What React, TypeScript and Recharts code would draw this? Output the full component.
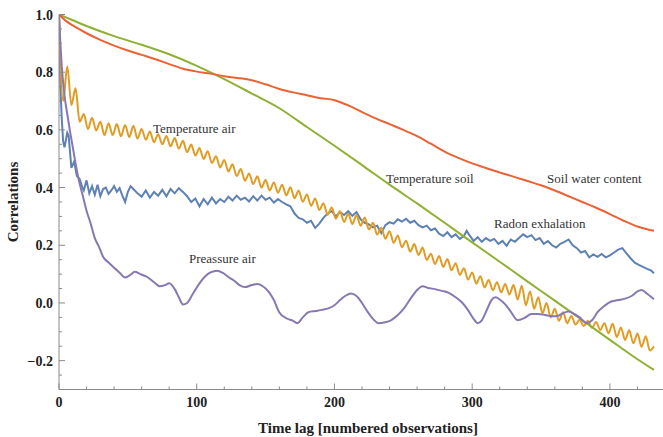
import React from 'react';
import { LineChart, Line, XAxis, YAxis, ReferenceDot } from 'recharts';

// ---- data: [time lag, correlation] ----
const radonExhalation: [number, number][] = [
  [0, 1.0], [1, 0.75], [2, 0.64], [3, 0.56], [4, 0.54], [6, 0.59], [7, 0.58], [9, 0.468], [11, 0.49],
  [13, 0.44], [15, 0.43], [17, 0.4], [18, 0.39], [20, 0.425], [22, 0.38], [24, 0.405], [26, 0.375],
  [28, 0.41], [30, 0.37], [32, 0.395], [34, 0.4], [36, 0.378], [38, 0.39], [40, 0.405], [42, 0.385],
  [44, 0.398], [46, 0.372], [48, 0.35], [50, 0.385], [52, 0.405], [54, 0.395], [57, 0.38], [60, 0.368],
  [63, 0.39], [66, 0.365], [69, 0.385], [72, 0.372], [75, 0.392], [78, 0.37], [81, 0.395], [84, 0.38],
  [87, 0.398], [90, 0.385], [93, 0.37], [96, 0.35], [99, 0.362], [102, 0.335], [105, 0.36], [108, 0.342],
  [111, 0.365], [114, 0.345], [117, 0.36], [120, 0.35], [123, 0.368], [126, 0.355], [129, 0.372],
  [132, 0.358], [135, 0.365], [138, 0.352], [141, 0.37], [144, 0.355], [147, 0.372], [150, 0.358],
  [153, 0.365], [156, 0.348], [159, 0.36], [162, 0.35], [165, 0.342], [168, 0.335], [171, 0.31],
  [174, 0.295], [177, 0.29], [180, 0.278], [183, 0.285], [186, 0.26], [189, 0.275], [192, 0.295],
  [195, 0.31], [198, 0.318], [201, 0.3], [204, 0.315], [207, 0.305], [210, 0.318], [213, 0.302],
  [216, 0.315], [219, 0.29], [222, 0.278], [225, 0.272], [228, 0.262], [231, 0.268], [234, 0.242],
  [237, 0.27], [240, 0.28], [243, 0.275], [246, 0.29], [249, 0.282], [252, 0.292], [255, 0.278],
  [258, 0.285], [261, 0.27], [264, 0.262], [267, 0.268], [270, 0.252], [273, 0.258], [276, 0.24],
  [279, 0.232], [282, 0.245], [285, 0.228], [288, 0.238], [291, 0.222], [294, 0.232], [296, 0.25],
  [298, 0.235], [301, 0.215], [304, 0.228], [307, 0.212], [310, 0.225], [313, 0.215], [316, 0.222],
  [319, 0.205], [322, 0.215], [325, 0.198], [328, 0.22], [331, 0.212], [334, 0.225], [337, 0.238],
  [340, 0.228], [343, 0.235], [346, 0.218], [349, 0.225], [352, 0.205], [355, 0.215], [358, 0.2],
  [361, 0.192], [364, 0.205], [367, 0.212], [370, 0.22], [373, 0.2], [376, 0.19], [379, 0.175],
  [382, 0.18], [385, 0.158], [388, 0.168], [391, 0.16], [394, 0.17], [397, 0.158], [400, 0.165],
  [403, 0.175], [406, 0.185], [409, 0.19], [412, 0.172], [415, 0.155], [418, 0.14], [421, 0.132],
  [424, 0.125], [427, 0.118], [430, 0.112], [432, 0.103],
];

const temperatureAir: [number, number][] = [
  [0, 1.0], [3, 0.70], [6, 0.82], [9, 0.686], [12, 0.744], [15, 0.628], [18, 0.655], [21, 0.603],
  [24, 0.642], [27, 0.598], [30, 0.628], [33, 0.582], [36, 0.623], [39, 0.582], [42, 0.62], [45, 0.578],
  [48, 0.617], [51, 0.575], [54, 0.614], [57, 0.57], [60, 0.603], [63, 0.566], [66, 0.594], [69, 0.557],
  [72, 0.585], [75, 0.55], [78, 0.579], [81, 0.543], [84, 0.572], [87, 0.535], [90, 0.562], [93, 0.523],
  [96, 0.549], [99, 0.511], [102, 0.537], [105, 0.499], [108, 0.526], [111, 0.485], [114, 0.509],
  [117, 0.47], [120, 0.496], [123, 0.456], [126, 0.481], [129, 0.44], [132, 0.464], [135, 0.424],
  [138, 0.449], [141, 0.412], [144, 0.439], [147, 0.4], [150, 0.426], [153, 0.39], [156, 0.418],
  [159, 0.382], [162, 0.41], [165, 0.373], [168, 0.401], [171, 0.363], [174, 0.39], [177, 0.351],
  [180, 0.376], [183, 0.337], [186, 0.362], [189, 0.322], [192, 0.346], [195, 0.306], [198, 0.331],
  [201, 0.292], [204, 0.318], [207, 0.281], [210, 0.309], [213, 0.274], [216, 0.304], [219, 0.268],
  [222, 0.296], [225, 0.255], [228, 0.278], [231, 0.237], [234, 0.261], [237, 0.223], [240, 0.249],
  [243, 0.209], [246, 0.234], [249, 0.193], [252, 0.216], [255, 0.178], [258, 0.204], [261, 0.166],
  [264, 0.192], [267, 0.149], [270, 0.171], [273, 0.135], [276, 0.163], [279, 0.125], [282, 0.152],
  [285, 0.113], [288, 0.138], [291, 0.097], [294, 0.12], [297, 0.081], [300, 0.106], [303, 0.067],
  [306, 0.093], [309, 0.054], [312, 0.08], [315, 0.044], [318, 0.072], [321, 0.037], [324, 0.066],
  [327, 0.029], [330, 0.062], [333, 0.012], [336, 0.06], [339, -0.008], [342, 0.04], [345, -0.02],
  [348, 0.02], [351, -0.036], [354, 0.0], [357, -0.05], [360, -0.02], [363, -0.062], [366, -0.032],
  [369, -0.07], [372, -0.045], [375, -0.075], [378, -0.058], [381, -0.08], [384, -0.062], [387, -0.086],
  [390, -0.066], [393, -0.094], [396, -0.07], [399, -0.105], [402, -0.072], [405, -0.118], [408, -0.085],
  [411, -0.128], [414, -0.095], [417, -0.14], [420, -0.106], [423, -0.152], [426, -0.115], [429, -0.165],
  [432, -0.15],
];

const temperatureSoil: [number, number][] = [
  [0, 1.0], [10, 0.98], [20, 0.96], [40, 0.925], [60, 0.895], [80, 0.862], [100, 0.822], [120, 0.776],
  [140, 0.726], [160, 0.675], [180, 0.61], [200, 0.545], [220, 0.478], [240, 0.41], [260, 0.345],
  [280, 0.278], [300, 0.21], [320, 0.143], [340, 0.075], [360, 0.008], [380, -0.06], [400, -0.128],
  [420, -0.195], [432, -0.232],
];

const soilWaterContent: [number, number][] = [
  [0, 1.0], [5, 0.978], [10, 0.962], [20, 0.935], [30, 0.912], [40, 0.892], [50, 0.875], [60, 0.86],
  [70, 0.845], [80, 0.828], [90, 0.812], [100, 0.802], [110, 0.795], [120, 0.786], [130, 0.78],
  [140, 0.772], [150, 0.758], [160, 0.742], [170, 0.73], [180, 0.72], [190, 0.71], [200, 0.703],
  [210, 0.685], [220, 0.662], [230, 0.64], [240, 0.62], [250, 0.6], [260, 0.578], [270, 0.552],
  [280, 0.525], [290, 0.503], [300, 0.484], [310, 0.468], [320, 0.452], [330, 0.438], [340, 0.423],
  [350, 0.408], [360, 0.39], [370, 0.37], [380, 0.35], [390, 0.33], [400, 0.308], [410, 0.285],
  [420, 0.265], [432, 0.25],
];

const pressureAir: [number, number][] = [
  [0, 1.0], [1, 0.9], [2, 0.82], [4, 0.72], [6, 0.655], [8, 0.595], [10, 0.54], [12, 0.485], [14, 0.435],
  [16, 0.395], [18, 0.358], [20, 0.32], [23, 0.275], [26, 0.225], [29, 0.195], [32, 0.16], [36, 0.14],
  [40, 0.122], [44, 0.105], [48, 0.088], [52, 0.098], [55, 0.108], [59, 0.1], [64, 0.09], [69, 0.072],
  [73, 0.058], [77, 0.062], [80, 0.068], [84, 0.048], [87, 0.02], [90, -0.005], [93, 0.0], [97, 0.03],
  [102, 0.068], [106, 0.092], [110, 0.106], [115, 0.112], [119, 0.104], [123, 0.09], [127, 0.078],
  [131, 0.062], [135, 0.055], [140, 0.062], [144, 0.066], [148, 0.058], [152, 0.04], [156, 0.01],
  [160, -0.033], [165, -0.053], [170, -0.062], [173, -0.07], [177, -0.05], [181, -0.032], [186, -0.028],
  [191, -0.024], [196, -0.018], [200, -0.008], [204, 0.01], [208, 0.025], [212, 0.033], [216, 0.024],
  [220, 0.0], [224, -0.03], [228, -0.055], [232, -0.07], [236, -0.068], [241, -0.06], [246, -0.042],
  [251, -0.015], [256, 0.02], [260, 0.045], [264, 0.058], [268, 0.052], [273, 0.048], [278, 0.042],
  [283, 0.035], [288, 0.02], [293, 0.0], [297, -0.025], [301, -0.055], [304, -0.07], [307, -0.06],
  [311, -0.02], [314, 0.01], [317, 0.02], [320, 0.012], [324, -0.005], [328, -0.03], [333, -0.06],
  [338, -0.052], [343, -0.038], [348, -0.038], [353, -0.042], [358, -0.046], [362, -0.045], [366, -0.035],
  [370, -0.03], [374, -0.038], [378, -0.05], [383, -0.07], [387, -0.06], [391, -0.032], [396, -0.01],
  [401, 0.005], [406, 0.01], [411, 0.015], [416, 0.025], [420, 0.04], [423, 0.045], [427, 0.032],
  [432, 0.013],
];

// ---- axes ----
const xTicks = [0, 20, 40, 60, 80, 100, 120, 140, 160, 180, 200, 220, 240, 260, 280, 300, 320, 340, 360, 380, 400, 420, 440];
const xMajor = [0, 100, 200, 300, 400];
const xTickLabels = ['0', '100', '200', '300', '400'];
const yTicks = [-0.3, -0.25, -0.2, -0.15, -0.1, -0.05, 0, 0.05, 0.1, 0.15, 0.2, 0.25, 0.3, 0.35, 0.4, 0.45, 0.5, 0.55, 0.6, 0.65, 0.7, 0.75, 0.8, 0.85, 0.9, 0.95, 1.0];
const yMajor = [-0.2, 0, 0.2, 0.4, 0.6, 0.8, 1.0];
const yTickLabels = ['\u22120.2', '0.0', '0.2', '0.4', '0.6', '0.8', '1.0'];

// ---- series labels inside the plot ----
const annText = ['Temperature air', 'Preassure air', 'Temperature soil', 'Soil water content', 'Radon exhalation'];
const annLag = [68.3, 94.4, 237.5, 354.4, 315.9];
const annVal = [0.589, 0.139, 0.416, 0.416, 0.26];

const COLORS = { radon: '#5E81B5', tair: '#E19C24', tsoil: '#8FB032', swc: '#EB6235', pair: '#8778B3' };
const AXIS = '#8a8a8a';
const SERIF = '"Liberation Serif", "Times New Roman", serif';

const toRows = (s: [number, number][]) => s.map(([lag, v]) => ({ lag, v }));

const findMajor = (arr: number[], v: number) => arr.findIndex((m) => Math.abs(m - v) < 1e-6);

const BottomTick = (props: any) => {
  const { x, y, payload } = props;
  const i = findMajor(xMajor, payload.value);
  return (
    <g>
      <line x1={x} x2={x} y1={y} y2={y - (i >= 0 ? 6 : 3)} stroke={AXIS} strokeWidth={1} />
      {i >= 0 && (
        <text x={x} y={y + 17} textAnchor="middle" fontFamily={SERIF} fontWeight="bold" fontSize={14} fill="#222">
          {xTickLabels[i]}
        </text>
      )}
    </g>
  );
};

const TopTick = (props: any) => {
  const { x, y, payload } = props;
  const i = findMajor(xMajor, payload.value);
  return <line x1={x} x2={x} y1={y} y2={y + (i >= 0 ? 6 : 3)} stroke={AXIS} strokeWidth={1} />;
};

const LeftTick = (props: any) => {
  const { x, y, payload } = props;
  const i = findMajor(yMajor, payload.value);
  return (
    <g>
      <line x1={x} x2={x + (i >= 0 ? 6 : 3)} y1={y} y2={y} stroke={AXIS} strokeWidth={1} />
      {i >= 0 && (
        <text x={x - 6} y={y + 5} textAnchor="end" fontFamily={SERIF} fontWeight="bold" fontSize={14} fill="#222">
          {yTickLabels[i]}
        </text>
      )}
    </g>
  );
};

const RightTick = (props: any) => {
  const { x, y, payload } = props;
  const i = findMajor(yMajor, payload.value);
  return <line x1={x} x2={x - (i >= 0 ? 6 : 3)} y1={y} y2={y} stroke={AXIS} strokeWidth={1} />;
};

const XTitle = () => (
  <text x={368} y={433} textAnchor="middle" fontFamily={SERIF} fontWeight="bold" fontSize={15} fill="#222">
    Time lag [numbered observations]
  </text>
);

const YTitle = () => (
  <text x={18} y={202} transform="rotate(-90 18 202)" textAnchor="middle" fontFamily={SERIF} fontWeight="bold" fontSize={15} fill="#222">
    Correlations
  </text>
);

export default function App() {
  return (
    <div style={{ position: 'absolute', left: 0, top: 0, width: 663, height: 437, overflow: 'hidden', background: '#fff' }}>
      <LineChart width={680} height={437} margin={{ top: 14.5, right: 15, bottom: 0, left: 0 }}>
        <XAxis
          type="number"
          dataKey="lag"
          domain={[0, 440]}
          ticks={xTicks}
          interval={0}
          tickSize={0}
          tickMargin={0}
          tickLine={false}
          axisLine={{ stroke: AXIS }}
          height={47.5}
          tick={<BottomTick />}
          label={XTitle}
          allowDataOverflow
        />
        <XAxis
          xAxisId="top"
          orientation="top"
          type="number"
          dataKey="lag"
          domain={[0, 440]}
          ticks={xTicks}
          interval={0}
          tickSize={0}
          tickMargin={0}
          tickLine={false}
          axisLine={{ stroke: AXIS }}
          height={0}
          tick={<TopTick />}
          allowDataOverflow
        />
        <YAxis
          type="number"
          domain={[-0.3, 1.0]}
          ticks={yTicks}
          interval={0}
          tickSize={0}
          tickMargin={0}
          tickLine={false}
          axisLine={{ stroke: AXIS }}
          width={59}
          tick={<LeftTick />}
          label={YTitle}
          allowDataOverflow
        />
        <YAxis
          yAxisId="r"
          orientation="right"
          type="number"
          domain={[-0.3, 1.0]}
          ticks={yTicks}
          interval={0}
          tickSize={0}
          tickMargin={0}
          tickLine={false}
          axisLine={{ stroke: AXIS }}
          width={0}
          tick={<RightTick />}
          allowDataOverflow
        />
        <Line data={toRows(radonExhalation)} dataKey="v" type="linear" stroke={COLORS.radon} strokeWidth={2} dot={false} isAnimationActive={false} />
        <Line data={toRows(temperatureAir)} dataKey="v" type="monotone" stroke={COLORS.tair} strokeWidth={2} dot={false} isAnimationActive={false} />
        <Line data={toRows(temperatureSoil)} dataKey="v" type="monotone" stroke={COLORS.tsoil} strokeWidth={2} dot={false} isAnimationActive={false} />
        <Line data={toRows(soilWaterContent)} dataKey="v" type="monotone" stroke={COLORS.swc} strokeWidth={2} dot={false} isAnimationActive={false} />
        <Line data={toRows(pressureAir)} dataKey="v" type="monotone" stroke={COLORS.pair} strokeWidth={2} dot={false} isAnimationActive={false} />
        {annText.map((t, i) => (
          <ReferenceDot
            key={t}
            x={annLag[i]}
            y={annVal[i]}
            r={0}
            ifOverflow="visible"
            shape={(p: any) => (
              <text x={p.cx} y={p.cy} fontFamily={SERIF} fontSize={13} fill="#333">
                {t}
              </text>
            )}
          />
        ))}
      </LineChart>
    </div>
  );
}
